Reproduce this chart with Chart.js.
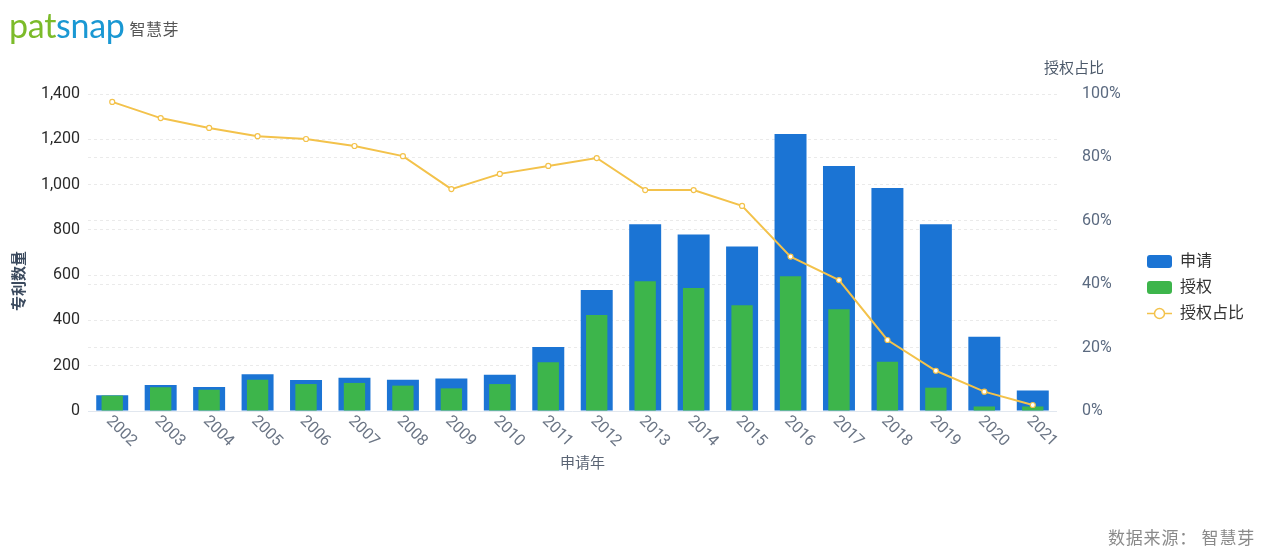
<!DOCTYPE html>
<html>
<head>
<meta charset="utf-8">
<script src="https://cdn.jsdelivr.net/npm/chart.js@4"></script>
<style>
  html, body { margin: 0; padding: 0; background: #fff; }
  #wrap { position: relative; width: 1268px; height: 560px; overflow: hidden; }
  #chart { position: absolute; left: 0; top: 0; }
  .logo { position: absolute; left: 9px; top: 4px; font-family: Lato, sans-serif; font-size: 34px; letter-spacing: -0.3px; }
  .logo .g { color: #7cbb2a; }
  .logo .b { color: #1a98d3; }
  .logo .cn { font-family: "Noto Sans CJK SC", sans-serif; font-size: 16px; color: #555; margin-left: 5px; letter-spacing: 0.5px; vertical-align: 3px; }
  .rtitle { position: absolute; left: 1044px; top: 56px; font-family: "Noto Sans CJK SC", sans-serif; font-size: 15px; color: #4d5a6b; }
  .source { position: absolute; left: 1108px; top: 524px; font-family: "Noto Sans CJK SC", sans-serif; font-size: 17px; color: #8a8a8a; letter-spacing: 0.8px; }
</style>
</head>
<body>
<div id="wrap">
  <canvas id="chart" width="1268" height="560"></canvas>
  <div class="logo"><span class="g">pat</span><span class="b">snap</span><span class="cn">智慧芽</span></div>
  <div class="rtitle">授权占比</div>
  <div class="source">数据来源： 智慧芽</div>
</div>
<script>
const years = ["2002","2003","2004","2005","2006","2007","2008","2009","2010","2011",
               "2012","2013","2014","2015","2016","2017","2018","2019","2020","2021"];
const applied = [70, 115, 106, 162, 137, 147, 138, 143, 160, 283,
                 534, 825, 779, 727, 1223, 1082, 985, 825, 328, 90];
const granted = [68, 105, 94, 138, 119, 124, 112, 100, 119, 215,
                 424, 573, 543, 467, 595, 449, 218, 103, 20, 20];
const grantRatio = [97.5, 92.4, 89.3, 86.7, 85.8, 83.6, 80.4, 70.0, 74.8, 77.3,
                    79.8, 69.7, 69.7, 64.7, 48.7, 41.3, 22.4, 12.7, 6.1, 1.9];
const leftTicks = [0, 200, 400, 600, 800, 1000, 1200, 1400];

const BLUE = "#1b74d4", GREEN = "#3db54b", YELLOW = "#f3c24b";

function swatch(color) {
  const c = document.createElement("canvas");
  c.width = 25; c.height = 13;
  const g = c.getContext("2d");
  g.fillStyle = color;
  g.beginPath();
  g.roundRect(0, 0, 25, 13, 3);
  g.fill();
  return c;
}
function lineSwatch() {
  const c = document.createElement("canvas");
  c.width = 25; c.height = 13;
  const g = c.getContext("2d");
  g.strokeStyle = YELLOW; g.lineWidth = 1.5;
  g.beginPath(); g.moveTo(0, 6.5); g.lineTo(25, 6.5); g.stroke();
  g.fillStyle = "#fff";
  g.beginPath(); g.arc(12.5, 6.5, 5, 0, Math.PI * 2); g.fill(); g.stroke();
  return c;
}
const legendIcons = [swatch(BLUE), swatch(GREEN), lineSwatch()];

const FONT = "Roboto, 'Noto Sans CJK SC', sans-serif";

const textPlugin = {
  id: "texts",
  afterDraw(chart) {
    const ctx = chart.ctx;
    const x = chart.scales.x;
    ctx.save();
    ctx.fillStyle = "#6b7585";
    ctx.font = "16px " + FONT;
    ctx.textAlign = "left";
    ctx.textBaseline = "top";
    years.forEach((y, i) => {
      const px = x.getPixelForValue(i);
      ctx.save();
      ctx.translate(px + 2, 413);
      ctx.rotate(Math.PI / 4);
      ctx.fillText(y, 0, 0);
      ctx.restore();
    });
    ctx.fillStyle = "#5a6474";
    ctx.font = "15px 'Noto Sans CJK SC', sans-serif";
    ctx.textAlign = "center";
    ctx.textBaseline = "middle";
    ctx.fillText("申请年", (chart.chartArea.left + chart.chartArea.right) / 2 + 10, 462);
    ctx.save();
    ctx.translate(18, 281);
    ctx.rotate(-Math.PI / 2);
    ctx.fillStyle = "#3b4a5e";
    ctx.font = "bold 15px 'Noto Sans CJK SC', sans-serif";
    ctx.fillText("专利数量", 0, 0);
    ctx.restore();
    ctx.restore();
  }
};

new Chart(document.getElementById("chart"), {
  data: {
    labels: years,
    datasets: [
      { type: "bar", label: "申请", data: applied, backgroundColor: BLUE,
        barPercentage: 0.66, categoryPercentage: 1, grouped: false, order: 3, yAxisID: "y" },
      { type: "bar", label: "授权", data: granted, backgroundColor: GREEN,
        barPercentage: 0.44, categoryPercentage: 1, grouped: false, order: 2, yAxisID: "y" },
      { type: "line", label: "授权占比", data: grantRatio, borderColor: YELLOW, borderWidth: 2,
        pointRadius: 2.5, pointBackgroundColor: "#fff", pointBorderColor: YELLOW, pointBorderWidth: 1.2,
        tension: 0, order: 1, yAxisID: "y1" }
    ]
  },
  options: {
    responsive: false,
    animation: false,
    layout: { padding: { left: 10, top: 94, bottom: 79, right: 14 } },
    scales: {
      x: {
        ticks: { display: false },
        grid: { display: false },
        border: { display: true, color: "#e1e7ef", width: 1 },
        afterFit(s) { s.height = 70; }
      },
      y: {
        position: "left",
        min: 0, max: 1400,
        afterBuildTicks(s) { s.ticks = leftTicks.map(v => ({ value: v })); },
        ticks: { color: "#2a2a2a", font: { size: 16, family: FONT }, padding: 8,
                 callback: v => v.toLocaleString("en-US") },
        grid: { color: "#eaeaea", drawTicks: false },
        border: { display: false, dash: [3, 3] },
        afterFit(s) { s.width = 78; }
      },
      y1: {
        position: "right",
        min: 0, max: 100,
        ticks: { stepSize: 20, color: "#5b6a80", font: { size: 16, family: FONT }, padding: 25,
                 callback: v => v + "%" },
        grid: { color: "#eaeaea", drawTicks: false },
        border: { display: false, dash: [3, 3] },
        afterFit(s) { s.width = 80; }
      }
    },
    plugins: {
      legend: {
        position: "right",
        align: "center",
        labels: {
          usePointStyle: true,
          pointStyleWidth: 25,
          boxHeight: 13,
          padding: 10,
          color: "#333",
          font: { size: 16, family: FONT },
          sort: (a, b) => a.datasetIndex - b.datasetIndex,
          generateLabels(chart) {
            const items = Chart.defaults.plugins.legend.labels.generateLabels(chart);
            items.forEach(it => { it.pointStyle = legendIcons[it.datasetIndex]; });
            return items;
          }
        }
      },
      tooltip: { enabled: false }
    }
  },
  plugins: [textPlugin]
});
</script>
</body>
</html>
